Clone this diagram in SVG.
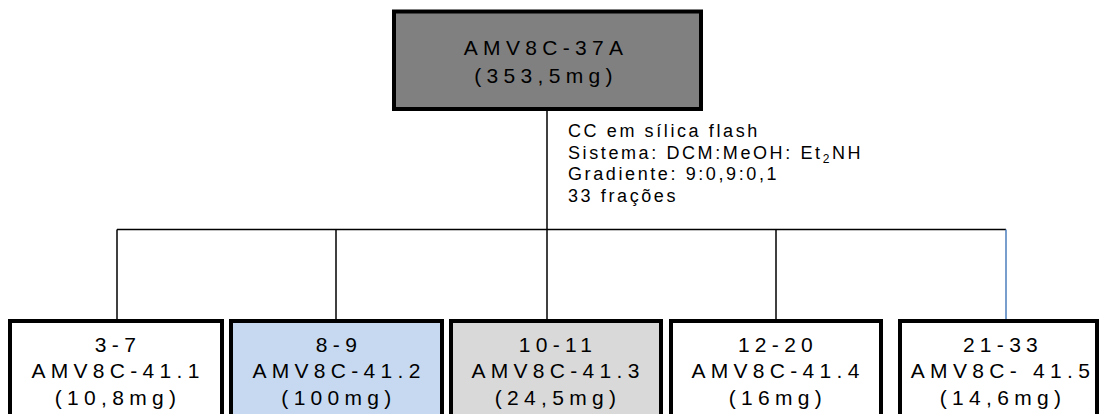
<svg xmlns="http://www.w3.org/2000/svg" width="1102" height="414" viewBox="0 0 1102 414">
<style>
text{font-family:"Liberation Sans",Arial,sans-serif;fill:#000}
.bx{font-size:21px;letter-spacing:5.3px;text-anchor:middle}
.an{font-size:18px;letter-spacing:2.6px}
.node{stroke:#000;stroke-width:4}
.ln{stroke:#000;stroke-width:1.5;fill:none}
</style>
<rect width="1102" height="414" fill="#fff"/>
<g id="connectors">
<line class="ln" x1="547" y1="111" x2="547" y2="319"/>
<line class="ln" x1="117" y1="229.5" x2="1006" y2="229.5"/>
<line class="ln" x1="117" y1="229.5" x2="117" y2="319"/>
<line class="ln" x1="336" y1="229.5" x2="336" y2="319"/>
<line class="ln" x1="776" y1="229.5" x2="776" y2="319"/>
<line x1="1006" y1="229.5" x2="1006" y2="319" stroke="#4a7ebb" stroke-width="1.5"/>
</g>
<g id="top">
<rect class="node" x="394" y="11.5" width="307" height="97.5" fill="#808080"/>
<text class="bx" x="546" y="55">AMV8C-37A</text>
<text class="bx" x="546" y="83">(353,5mg)</text>
</g>
<g id="annotation">
<text class="an" x="568" y="137">CC em sílica flash</text>
<text class="an" x="568" y="159">Sistema: DCM:MeOH: Et<tspan font-size="12" dy="4">2</tspan><tspan dy="-4">NH</tspan></text>
<text class="an" x="568" y="180">Gradiente: 9:0,9:0,1</text>
<text class="an" x="568" y="202">33 frações</text>
</g>
<g id="f1">
<rect class="node" x="10" y="321" width="212" height="110" fill="#fff"/>
<text class="bx" x="118" y="352">3-7</text>
<text class="bx" x="118" y="378">AMV8C-41.1</text>
<text class="bx" x="118" y="405">(10,8mg)</text>
</g>
<g id="f2">
<rect class="node" x="231" y="321" width="211" height="110" fill="#c6d9f1"/>
<text class="bx" x="339" y="352">8-9</text>
<text class="bx" x="339" y="378">AMV8C-41.2</text>
<text class="bx" x="339" y="405">(100mg)</text>
</g>
<g id="f3">
<rect class="node" x="451" y="321" width="210" height="110" fill="#d9d9d9"/>
<text class="bx" x="558" y="352">10-11</text>
<text class="bx" x="558" y="378">AMV8C-41.3</text>
<text class="bx" x="558" y="405">(24,5mg)</text>
</g>
<g id="f4">
<rect class="node" x="671" y="321" width="210" height="110" fill="#fff"/>
<text class="bx" x="778" y="352">12-20</text>
<text class="bx" x="778" y="378">AMV8C-41.4</text>
<text class="bx" x="778" y="405">(16mg)</text>
</g>
<g id="f5">
<rect class="node" x="900" y="321" width="197" height="110" fill="#fff"/>
<text class="bx" x="1003" y="352">21-33</text>
<text class="bx" x="1003" y="378">AMV8C- 41.5</text>
<text class="bx" x="1003" y="405">(14,6mg)</text>
</g>
</svg>
